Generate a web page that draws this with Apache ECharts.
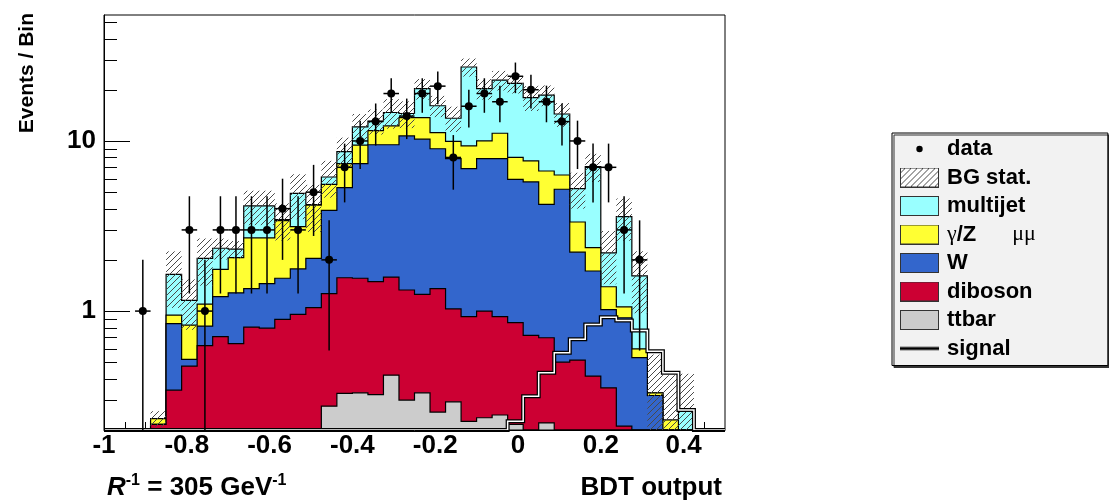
<!DOCTYPE html>
<html>
<head>
<meta charset="utf-8">
<title>BDT output</title>
<script src="https://cdn.jsdelivr.net/npm/echarts@6/dist/echarts.min.js"></script>
<style>
  html, body { margin: 0; padding: 0; background: #ffffff; }
  #chart { width: 1109px; height: 504px; }
</style>
</head>
<body>
<div id="chart"></div>
<script>
// Binning of the BDT output histogram
const binLow = -1.0;
const binHigh = 0.5;
const nBins = 40;

// Vertical range of the log axis (events / bin)
const yMin = 0.2;
const yMax = 55;

// Expected backgrounds per bin, listed from the bottom of the stack upwards
const ttbar = [0, 0, 0, 0, 0, 0, 0, 0, 0, 0, 0, 0, 0, 0, 0.276,
  0.328, 0.331, 0.323, 0.42, 0.30, 0.331, 0.255, 0.293, 0.225, 0.236,
  0.245, 0.216, 0.15, 0.22, 0.10, 0.10, 0.05, 0.03, 0.02, 0, 0, 0, 0, 0, 0];
const diboson = [0, 0, 0, 0.216, 0.343, 0.475, 0.626, 0.707, 0.643, 0.805,
  0.794, 0.894, 0.956, 1.047, 0.989, 1.242, 1.229, 1.167, 1.165, 1.03,
  0.923, 1.10, 0.737, 0.702, 0.764, 0.682, 0.639, 0.57, 0.477, 0.401,
  0.415, 0.365, 0.324, 0.191, 0.10, 0.05, 0, 0, 0, 0];
const wjets = [0, 0, 0, 0, 0.50, 0.045, 0.19, 0.508, 0.637, 0.55,
  0.656, 0.666, 0.814, 0.993, 2.645, 3.75, 5.80, 8.01, 7.915, 9.37,
  8.99, 7.645, 6.85, 5.953, 6.88, 6.953, 5.095, 5.02, 3.543, 4.699,
  1.705, 1.305, 0.666, 0.703, 0.432, 0.269, 0.15, 0.08, 0, 0];
const gammaZ = [0, 0, 0, 0.017, 0.104, 0.308, 0.284, 0.545, 0.78, 1.335,
  1.24, 1.84, 1.37, 2.16, 1.65, 2.04, 2.08, 2.0, 2.75, 3.0,
  3.46, 2.2, 2.06, 2.47, 2.12, 3.22, 2.05, 1.89, 2.42, 1.11,
  1.12, 0.64, 0.37, 0.146, 0.068, 0.012, 0.079, 0.05, 0, 0];
const multijet = [0, 0, 0, 0, 0.697, 0.328, 0.94, 0.58, 0.25, 1.46,
  1.46, 0.05, 1.78, 0.02, 0.58, 1.30, 2.66, 1.6, 2.45, 0.8,
  6.6, 4.9, 3.66, 17.85, 10.3, 11.7, 13.8, 10.37, 11.94, 8.09,
  1.91, 4.71, 0.81, 2.53, 1.01, 0, 0, 0.128, 0, 0];

// Statistical uncertainty on the summed background
const bgStat = [0, 0, 0, 0.025, 0.6, 0.38, 0.63, 0.33, 0.27, 0.95,
  0.95, 0.85, 1.45, 1.3, 1.5, 1.8, 2.3, 2.2, 2.9, 2.6,
  2.8, 2.3, 2.3, 3.3, 2.8, 3.0, 2.8, 3.0, 2.6, 2.3,
  1.25, 1.33, 0.76, 1.0, 0.64, 0.225, 0.19, 0.17, 0, 0];

// Observed events per bin
const observed = [0, 0, 1, 0, 0, 3, 1, 3, 3, 3,
  3, 4, 3, 5, 2, 7, 10, 13, 19, 14,
  19, 21, 8, 16, 19, 17, 24, 20, 17, 13,
  10, 7, 7, 3, 2, 0, 0, 0, 0, 0];

// Expected signal for R^-1 = 305 GeV^-1
const signal = [0, 0, 0, 0, 0, 0, 0, 0, 0, 0,
  0, 0, 0, 0, 0, 0, 0, 0, 0, 0,
  0, 0, 0, 0, 0, 0, 0.225, 0.316, 0.434, 0.569,
  0.682, 0.835, 0.92, 0.88, 0.77, 0.58, 0.434, 0.262, 0, 0];

// Axis ticks and labels
const yTickLabels = ['1', '10'];
const yMajorTicks = [1, 10];
const yMinorTicks = [0.3, 0.4, 0.5, 0.6, 0.7, 0.8, 0.9,
  2, 3, 4, 5, 6, 7, 8, 9, 20, 30, 40, 50];
const xLabelStep = 0.2;
const xTickStep = 0.05;

const FONT = "'Liberation Sans', Arial, Helvetica, sans-serif";
const SERIF = "'Liberation Serif', 'DejaVu Serif', serif";
const COLORS = {
  ttbar: '#cccccc',
  diboson: '#cc0033',
  wjets: '#3366cc',
  gammaZ: '#ffff33',
  multijet: '#99ffff'
};

const binWidth = (binHigh - binLow) / nBins;
const edge = i => binLow + i * binWidth;
const clampY = v => Math.min(Math.max(v, yMin), yMax);

// Cumulative stack levels (ttbar, +diboson, +W, +gamma/Z, +multijet)
const components = [ttbar, diboson, wjets, gammaZ, multijet];
const levels = [];
components.forEach((arr, k) => {
  levels.push(arr.map((v, i) => v + (k > 0 ? levels[k - 1][i] : 0)));
});
const totalBg = levels[levels.length - 1];

// Hatch pattern used for the background uncertainty band
function makeHatch(size, color) {
  const c = document.createElement('canvas');
  c.width = size; c.height = size;
  const ctx = c.getContext('2d');
  ctx.strokeStyle = color;
  ctx.lineWidth = 1;
  ctx.beginPath();
  ctx.moveTo(0, size); ctx.lineTo(size, 0);
  ctx.moveTo(-1, 1); ctx.lineTo(1, -1);
  ctx.moveTo(size - 1, size + 1); ctx.lineTo(size + 1, size - 1);
  ctx.stroke();
  return c;
}
const hatch = makeHatch(6, '#4a4a4a');

// Legend key images
function keyImage(draw) {
  const c = document.createElement('canvas');
  c.width = 39; c.height = 20;
  draw(c.getContext('2d'));
  return 'image://' + c.toDataURL();
}
const boxKey = color => keyImage(ctx => {
  ctx.fillStyle = color; ctx.fillRect(0, 0, 39, 20);
  ctx.strokeStyle = '#333'; ctx.lineWidth = 1; ctx.strokeRect(0.5, 0.5, 38, 19);
});
const dataKey = keyImage(ctx => {
  ctx.fillStyle = '#000'; ctx.beginPath(); ctx.arc(19.5, 10, 3.2, 0, Math.PI * 2); ctx.fill();
});
const hatchKey = keyImage(ctx => {
  ctx.fillStyle = '#fff'; ctx.fillRect(0, 0, 39, 20);
  ctx.fillStyle = ctx.createPattern(hatch, 'repeat'); ctx.fillRect(0, 0, 39, 20);
  ctx.strokeStyle = '#333'; ctx.lineWidth = 1; ctx.strokeRect(0.5, 0.5, 38, 19);
});
const signalKey = keyImage(ctx => {
  ctx.fillStyle = '#000'; ctx.fillRect(0, 8.5, 39, 3);
});

// Step outline of one histogram level, closed along the bottom of the frame
function stepPoints(api, values) {
  const pts = [api.coord([edge(0), yMin])];
  for (let i = 0; i < nBins; i++) {
    const v = clampY(values[i]);
    pts.push(api.coord([edge(i), v]), api.coord([edge(i + 1), v]));
  }
  pts.push(api.coord([edge(nBins), yMin]));
  return pts;
}

function stackSeries(name, k, color, z) {
  return {
    type: 'custom', name: name, z: z, silent: true,
    data: [[binLow, yMin]],
    renderItem: (params, api) => ({
      type: 'polygon',
      shape: { points: stepPoints(api, levels[k]) },
      style: { fill: color, stroke: '#000', lineWidth: 1.2 }
    })
  };
}

// Tick marks: [x, y, kind]  kind 0/1 = y major/minor, 2/3 = x major/minor
const tickItems = [];
yMajorTicks.forEach(v => tickItems.push([binLow, v, 0]));
yMinorTicks.forEach(v => tickItems.push([binLow, v, 1]));
for (let i = 1; i * xTickStep < binHigh - binLow - 1e-9; i++) {
  const x = binLow + i * xTickStep;
  const r = (x - binLow) / xLabelStep;
  tickItems.push([x, yMin, Math.abs(r - Math.round(r)) < 1e-6 ? 2 : 3]);
}

const bandItems = [];
const dataItems = [];
for (let i = 0; i < nBins; i++) {
  if (totalBg[i] > 0 && bgStat[i] > 0) bandItems.push([edge(i) + binWidth / 2, totalBg[i], bgStat[i]]);
  if (observed[i] > 0) dataItems.push([edge(i) + binWidth / 2, observed[i]]);
}

const chart = echarts.init(document.getElementById('chart'), null, { renderer: 'canvas' });

chart.setOption({
  animation: false,
  backgroundColor: '#ffffff',
  grid: {
    left: 104, top: 15, width: 621, height: 415,
    show: true, borderColor: '#000', borderWidth: 1, backgroundColor: 'transparent'
  },
  xAxis: {
    type: 'value', min: binLow, max: binHigh, interval: xLabelStep, z: 10,
    axisLine: { show: true, onZero: false, lineStyle: { color: '#000', width: 1 } },
    axisTick: { show: false },
    splitLine: { show: false },
    axisLabel: {
      margin: 3, showMaxLabel: false,
      fontFamily: FONT, fontWeight: 'bold', fontSize: 26, color: '#000',
      formatter: v => {
        const r = (v - binLow) / xLabelStep;
        return Math.abs(r - Math.round(r)) < 1e-6 ? String(Math.round(v * 10) / 10) : '';
      }
    }
  },
  yAxis: {
    type: 'log', logBase: 10, min: yMin, max: yMax, z: 10,
    axisLine: { show: true, onZero: false, lineStyle: { color: '#000', width: 1 } },
    axisTick: { show: false },
    splitLine: { show: false },
    minorTick: { show: false },
    axisLabel: {
      margin: 8, showMinLabel: false, showMaxLabel: false,
      fontFamily: FONT, fontWeight: 'bold', fontSize: 26, color: '#000',
      formatter: v => {
        const idx = yMajorTicks.findIndex(t => Math.abs(v - t) < 1e-6 * t);
        return idx >= 0 ? yTickLabels[idx] : '';
      }
    }
  },
  legend: {
    orient: 'vertical', left: 892, top: 133,
    itemWidth: 39, itemHeight: 20, itemGap: 6.5,
    padding: [5, 72, 6, 8],
    backgroundColor: '#f2f2f2', borderColor: '#000', borderWidth: 1,
    shadowColor: '#333', shadowOffsetX: 2, shadowOffsetY: 2, shadowBlur: 0,
    selectedMode: false,
    textStyle: {
      padding: [0, 0, 0, 3],
      rich: {
        b: { fontFamily: FONT, fontWeight: 'bold', fontSize: 22, lineHeight: 20, color: '#000' },
        g: { fontFamily: SERIF, fontSize: 22, lineHeight: 20, color: '#000' },
        gap: { width: 36, lineHeight: 20 }
      }
    },
    formatter: name => name === 'γ/Z→μμ' ? '{g|γ}{b|/Z}{gap| }{g|μμ}' : '{b|' + name + '}',
    data: [
      { name: 'data', icon: dataKey },
      { name: 'BG stat.', icon: hatchKey },
      { name: 'multijet', icon: boxKey(COLORS.multijet) },
      { name: 'γ/Z→μμ', icon: boxKey(COLORS.gammaZ) },
      { name: 'W', icon: boxKey(COLORS.wjets) },
      { name: 'diboson', icon: boxKey(COLORS.diboson) },
      { name: 'ttbar', icon: boxKey(COLORS.ttbar) },
      { name: 'signal', icon: signalKey }
    ]
  },
  graphic: [
    {
      type: 'text', x: 27, y: 13, rotation: Math.PI / 2, z: 100,
      style: {
        text: 'Events / Bin', fill: '#000',
        font: "bold 21px " + FONT, align: 'right', verticalAlign: 'middle'
      }
    },
    {
      type: 'text', x: 722, y: 488, z: 100,
      style: {
        text: 'BDT output', fill: '#000',
        font: "bold 26px " + FONT, align: 'right', verticalAlign: 'middle'
      }
    },
    {
      type: 'text', x: 107, y: 488, z: 100,
      style: {
        text: '{r|R}{s|-1}{t| = 305 GeV}{s|-1}',
        verticalAlign: 'middle',
        rich: {
          r: { fontFamily: FONT, fontWeight: 'bold', fontStyle: 'italic', fontSize: 26, lineHeight: 30, fill: '#000' },
          t: { fontFamily: FONT, fontWeight: 'bold', fontSize: 26, lineHeight: 30, fill: '#000' },
          s: { fontFamily: FONT, fontWeight: 'bold', fontSize: 16, lineHeight: 16, verticalAlign: 'top', fill: '#000' }
        }
      }
    }
  ],
  series: [
    {
      type: 'custom', name: 'ticks', z: 1, silent: true,
      data: tickItems,
      renderItem: (params, api) => {
        const kind = api.value(2);
        const p = api.coord([api.value(0), api.value(1)]);
        if (kind < 2) {
          const y = Math.round(p[1]) + 0.5;
          const len = kind === 0 ? 26 : 13;
          return { type: 'line', shape: { x1: p[0], y1: y, x2: p[0] + len, y2: y },
            style: { stroke: '#000', lineWidth: 1 } };
        }
        const x = Math.round(p[0]) + 0.5;
        const len = kind === 2 ? 16 : 8;
        return { type: 'line', shape: { x1: x, y1: p[1], x2: x, y2: p[1] - len },
          style: { stroke: '#000', lineWidth: 1 } };
      }
    },
    stackSeries('multijet', 4, COLORS.multijet, 2),
    stackSeries('γ/Z→μμ', 3, COLORS.gammaZ, 3),
    stackSeries('W', 2, COLORS.wjets, 4),
    stackSeries('diboson', 1, COLORS.diboson, 5),
    stackSeries('ttbar', 0, COLORS.ttbar, 6),
    {
      type: 'custom', name: 'BG stat.', z: 7, silent: true,
      data: bandItems,
      renderItem: (params, api) => {
        const xc = api.value(0), tot = api.value(1), err = api.value(2);
        const hi = clampY(tot + err), lo = clampY(tot - err);
        if (hi <= yMin) return null;
        const p1 = api.coord([xc - binWidth / 2, hi]);
        const p2 = api.coord([xc + binWidth / 2, lo]);
        return {
          type: 'rect',
          shape: { x: p1[0], y: p1[1], width: p2[0] - p1[0], height: p2[1] - p1[1] },
          style: { fill: { image: hatch, repeat: 'repeat' }, stroke: null }
        };
      }
    },
    {
      type: 'custom', name: 'signal', z: 8, silent: true,
      data: [[binLow, yMin]],
      renderItem: (params, api) => {
        const pts = stepPoints(api, signal);
        return {
          type: 'group',
          children: [
            { type: 'polyline', shape: { points: pts }, style: { stroke: '#000', lineWidth: 4, fill: null } },
            { type: 'polyline', shape: { points: pts }, style: { stroke: '#fff', lineWidth: 1.5, fill: null } }
          ]
        };
      }
    },
    {
      type: 'custom', name: 'data', z: 9, silent: true,
      data: dataItems,
      renderItem: (params, api) => {
        const xc = api.value(0), n = api.value(1);
        const e = Math.sqrt(n);
        const c = api.coord([xc, n]);
        const top = api.coord([xc, clampY(n + e)]);
        const bot = api.coord([xc, clampY(n - e)]);
        const left = api.coord([xc - binWidth / 2, n]);
        const right = api.coord([xc + binWidth / 2, n]);
        return {
          type: 'group',
          children: [
            { type: 'line', shape: { x1: c[0], y1: top[1], x2: c[0], y2: bot[1] }, style: { stroke: '#000', lineWidth: 1.5 } },
            { type: 'line', shape: { x1: left[0], y1: c[1], x2: right[0], y2: c[1] }, style: { stroke: '#000', lineWidth: 1.5 } },
            { type: 'circle', shape: { cx: c[0], cy: c[1], r: 4 }, style: { fill: '#000' } }
          ]
        };
      }
    }
  ]
});
</script>
</body>
</html>
